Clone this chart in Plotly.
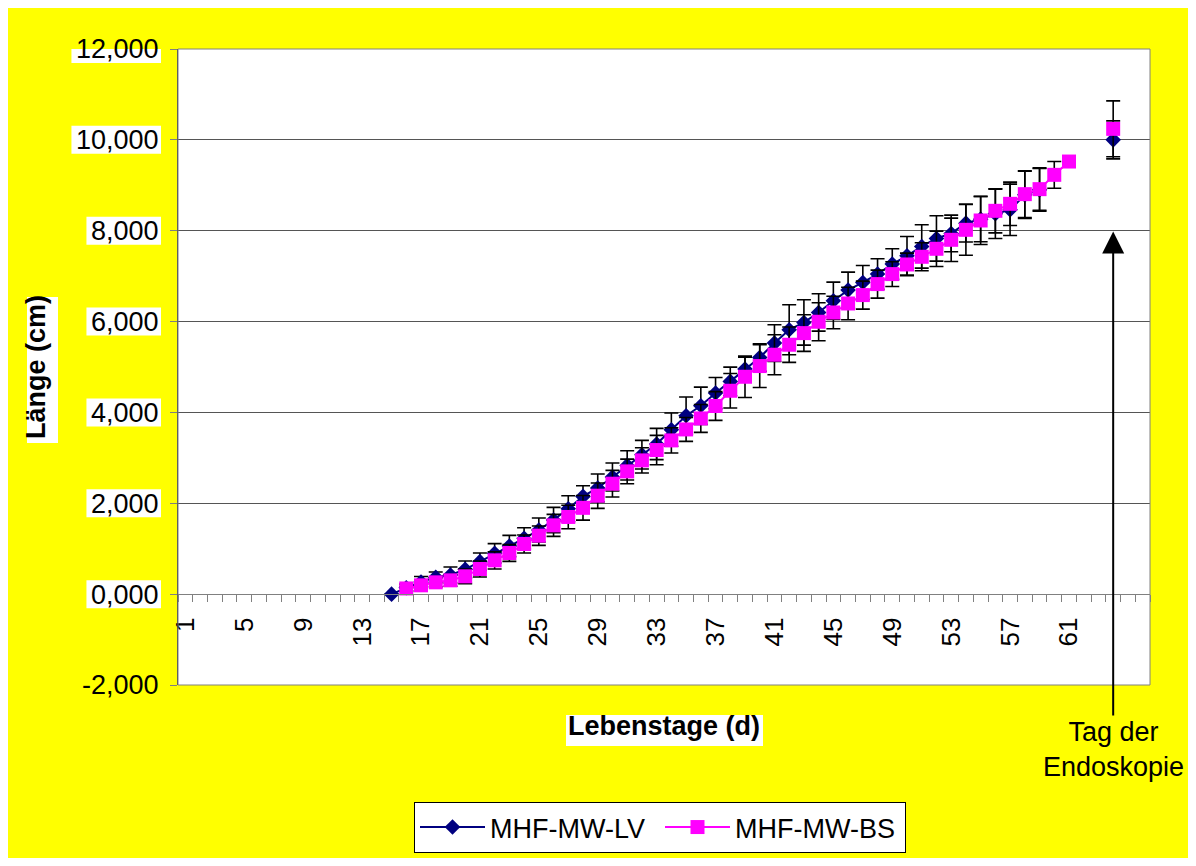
import plotly.graph_objects as go

# ---------------- data ----------------
days_lv = list(range(15, 65))
len_lv = [0.000, 0.140, 0.268, 0.370, 0.422, 0.546, 0.715, 0.898, 1.060, 1.228,
          1.412, 1.632, 1.881, 2.152, 2.337, 2.579, 2.834, 3.069, 3.305, 3.620,
          3.927, 4.147, 4.427, 4.683, 4.955, 5.210, 5.526, 5.820, 5.981, 6.200,
          6.458, 6.693, 6.861, 7.045, 7.265, 7.448, 7.653, 7.829, 7.940, 8.167,
          8.255, 8.372, 8.460, 8.790, 8.900, None, None, None, None, 10.000]
err_lv = [0.000, 0.080, 0.120, 0.118, 0.176, 0.184, 0.191, 0.213, 0.234, 0.235,
          0.264, 0.278, 0.286, 0.235, 0.307, 0.307, 0.323, 0.315, 0.343, 0.366,
          0.411, 0.411, 0.343, 0.315, 0.263, 0.302, 0.404, 0.550, 0.500, 0.411,
          0.411, 0.396, 0.374, 0.337, 0.337, 0.425, 0.477, 0.499, 0.403, 0.416,
          0.497, 0.543, 0.565, 0.520, 0.470, None, None, None, None, 0.418]

days_bs = list(range(16, 65))
len_bs = [0.125, 0.194, 0.260, 0.304, 0.392, 0.554, 0.744, 0.906, 1.104, 1.287,
          1.514, 1.699, 1.900, 2.167, 2.431, 2.702, 2.944, 3.172, 3.384, 3.626,
          3.868, 4.141, 4.477, 4.785, 5.021, 5.270, 5.490, 5.746, 5.996, 6.200,
          6.398, 6.583, 6.825, 7.045, 7.257, 7.426, 7.602, 7.800, 8.020, 8.225,
          8.438, 8.592, 8.805, 8.915, 9.230, 9.523, None, None, 10.242]
err_bs = [0.050, 0.080, 0.100, 0.130, 0.161, 0.176, 0.190, 0.184, 0.198, 0.213,
          0.242, 0.258, 0.270, 0.280, 0.293, 0.271, 0.278, 0.323, 0.278, 0.264,
          0.308, 0.317, 0.380, 0.455, 0.471, 0.441, 0.389, 0.403, 0.418, 0.358,
          0.358, 0.308, 0.308, 0.273, 0.249, 0.308, 0.390, 0.478, 0.560, 0.530,
          0.485, 0.478, 0.515, 0.468, 0.295, 0.000, None, None, 0.615]

n_categories = 66
x_tick_vals = list(range(1, 62, 4))
x_tick_text = [str(v) for v in x_tick_vals]
y_tick_vals = [-2, 0, 2, 4, 6, 8, 10, 12]
y_tick_text = ["-2,000", "0,000", "2,000", "4,000", "6,000", "8,000", "10,000", "12,000"]

endo_day = 64
endo_arrow_tip = 7.98
endo_label = "Tag der<br>Endoskopie"

# ---------------- geometry helpers ----------------
OFF = 8                      # page body margin
W, H = 1180, 850
L, R, T, B = 170, 38, 41, 173
PW, PH = W - L - R, H - T - B
FONT = "Arial, 'Liberation Sans', sans-serif"
FS = 27


def px_x(sx):
    """screen x (as measured on the page) -> paper fraction"""
    return (sx - OFF - L) / PW


def px_y(sy):
    return (H - B - (sy - OFF)) / PH


def text_w(s, size):
    widths = {",": 0.278, "-": 0.584}
    return sum(widths.get(c, 0.556) for c in s) * size


fig = go.Figure()
fig.add_trace(go.Scatter(
    x=days_lv, y=len_lv, name="MHF-MW-LV", mode="lines+markers",
    line=dict(color="#000080", width=2),
    marker=dict(symbol="diamond", size=12, color="#000080"),
    error_y=dict(type="data", array=err_lv, color="black", thickness=1.6, width=7),
    connectgaps=False, cliponaxis=False,
))
fig.add_trace(go.Scatter(
    x=days_bs, y=len_bs, name="MHF-MW-BS", mode="lines+markers",
    line=dict(color="#FF00FF", width=2),
    marker=dict(symbol="square", size=14, color="#FF00FF"),
    error_y=dict(type="data", array=err_bs, color="black", thickness=1.6, width=7),
    connectgaps=False, cliponaxis=False,
))

shapes = []
# white boxes behind y tick labels (Excel look), except the lowest
lab_right = 158
for v, t in zip(y_tick_vals, y_tick_text):
    if v < 0:
        continue
    w = text_w(t, FS)
    shapes.append(dict(type="rect", layer="below", xref="paper", yref="y",
                       x0=px_x(lab_right - w - 4), x1=px_x(lab_right + 3),
                       y0=v - 14 / PH * 14, y1=v + 14 / PH * 14,
                       fillcolor="white", line=dict(width=0)))
# white boxes behind axis titles
shapes.append(dict(type="rect", layer="below", xref="paper", yref="paper",
                   x0=px_x(27), x1=px_x(58), y0=px_y(443), y1=px_y(297),
                   fillcolor="white", line=dict(width=0)))
shapes.append(dict(type="rect", layer="below", xref="paper", yref="paper",
                   x0=px_x(566), x1=px_x(763), y0=px_y(746), y1=px_y(715),
                   fillcolor="white", line=dict(width=0)))
# plot-area frame
shapes.append(dict(type="rect", layer="above", xref="x domain", yref="y domain",
                   x0=0, x1=1, y0=0, y1=1, line=dict(color="#808080", width=1)))

fig.update_layout(
    width=W, height=H,
    paper_bgcolor="#FFFF00", plot_bgcolor="white",
    margin=dict(l=L, r=R, t=T, b=B, autoexpand=False),
    font=dict(family=FONT, size=FS, color="black"),
    separators=",.",
    showlegend=True,
    legend=dict(orientation="h", x=px_x(414), xanchor="left", y=px_y(802), yanchor="top",
                bgcolor="white", bordercolor="black", borderwidth=1,
                font=dict(size=FS, family=FONT), itemwidth=65,
                entrywidth=165, entrywidthmode="pixels",
                traceorder="normal"),
    xaxis=dict(range=[0.5, n_categories + 0.5], tickmode="array",
               tickvals=x_tick_vals, ticktext=x_tick_text, tickangle=-90,
               ticks="", showgrid=False, zeroline=False,
               showline=True, linecolor="#808080", linewidth=1,
               anchor="free", position=2 / 14,
               tickfont=dict(size=26), ticklabelstandoff=12,
               minor=dict(tickmode="linear", tick0=0.5, dtick=1, ticks="outside",
                          ticklen=7, tickcolor="#808080", tickwidth=1, showgrid=False),
               title=dict(text="<b>Lebenstage (d)</b>", standoff=70,
                          font=dict(size=FS))),
    yaxis=dict(range=[-2, 12], tickmode="array", tickvals=y_tick_vals, ticktext=y_tick_text,
               ticks="outside", ticklen=7, tickcolor="#808080",
               showgrid=True, gridcolor="#555555", gridwidth=1, zeroline=False,
               showline=True, linecolor="#404040", linewidth=1,
               ticklabelstandoff=6, tickfont=dict(size=FS),
               title=dict(text="<b>Länge (cm)</b>", standoff=22, font=dict(size=FS))),
    shapes=shapes,
    annotations=[dict(
        x=endo_day, y=endo_arrow_tip, xref="x", yref="y",
        ax=endo_day, ay=-3.42, axref="x", ayref="y",
        text=endo_label, showarrow=True, arrowhead=2, arrowsize=2.2, arrowwidth=2,
        arrowcolor="black", standoff=0, startstandoff=0,
        font=dict(size=FS, color="black", family=FONT), align="center",
    )],
)

fig.write_html("out.html")
